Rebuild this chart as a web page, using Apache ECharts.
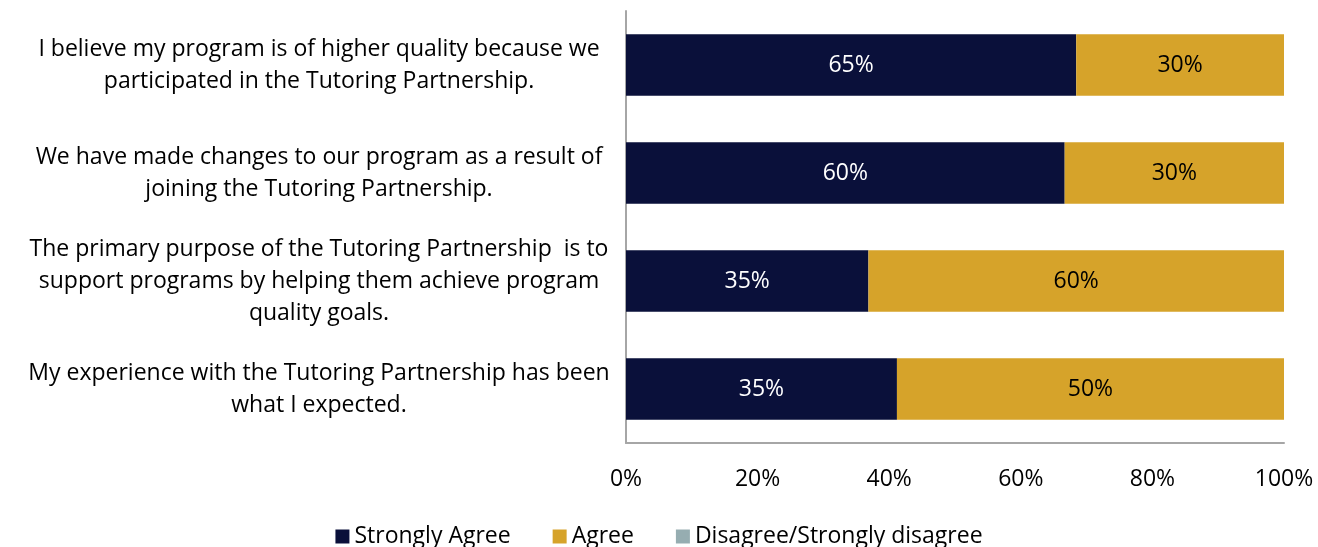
<!DOCTYPE html>
<html>
<head>
<meta charset="utf-8">
<script src="https://cdn.jsdelivr.net/npm/echarts@6/dist/echarts.min.js"></script>
<style>
  html, body { margin: 0; padding: 0; background: #fff; }
  #chart { width: 1318px; height: 547px; }
</style>
</head>
<body>
<div id="chart"></div>
<script>
var categories = [
  'I believe my program is of higher quality because we\nparticipated in the Tutoring Partnership.',
  'We have made changes to our program as a result of\njoining the Tutoring Partnership.',
  'The primary purpose of the Tutoring Partnership  is to\nsupport programs by helping them achieve program\nquality goals.',
  'My experience with the Tutoring Partnership has been\nwhat I expected.'
];
var stronglyAgree = [65, 60, 35, 35];
var agree = [30, 30, 60, 50];
var disagree = [0, 0, 0, 0];
var xTicks = [0, 20, 40, 60, 80, 100];

var font = '"Open Sans", sans-serif';
var fs = 23;

// 100% stacked: each bar is the share of the row total, label keeps the reported %
function share(arr, i) {
  var total = stronglyAgree[i] + agree[i] + disagree[i];
  return { value: arr[i] / total * 100, raw: arr[i] };
}
function rows(arr) {
  return categories.map(function (c, i) { return share(arr, i); });
}
function lbl(color) {
  return {
    show: true,
    color: color,
    fontSize: fs,
    fontFamily: font,
    formatter: function (p) { return p.data.raw > 0 ? p.data.raw + '%' : ''; }
  };
}

var chart = echarts.init(document.getElementById('chart'));
chart.setOption({
  animation: false,
  grid: { left: 626, right: 34, top: 11, bottom: 104 },
  legend: {
    bottom: -6,
    left: 'center',
    itemWidth: 14,
    itemHeight: 14,
    itemGap: 42,
    icon: 'rect',
    textStyle: { fontSize: fs, fontFamily: font, color: '#000' },
    data: ['Strongly Agree', 'Agree', 'Disagree/Strongly disagree']
  },
  xAxis: {
    type: 'value',
    min: xTicks[0],
    max: xTicks[xTicks.length - 1],
    interval: xTicks[1] - xTicks[0],
    axisLine: { show: true, lineStyle: { color: '#a6a6a6', width: 2 } },
    axisTick: { show: false },
    splitLine: { show: false },
    axisLabel: {
      margin: 25,
      fontSize: fs,
      fontFamily: font,
      color: '#000',
      formatter: '{value}%'
    }
  },
  yAxis: {
    type: 'category',
    inverse: true,
    data: categories,
    axisLine: { show: true, lineStyle: { color: '#a6a6a6', width: 2 } },
    axisTick: { show: false },
    axisLabel: {
      align: 'center',
      margin: 307,
      fontSize: fs,
      lineHeight: 32,
      fontFamily: font,
      color: '#000'
    }
  },
  series: [
    {
      name: 'Strongly Agree', type: 'bar', stack: 'all', barWidth: '57%',
      itemStyle: { color: '#0a103a' },
      label: lbl('#fff'),
      data: rows(stronglyAgree)
    },
    {
      name: 'Agree', type: 'bar', stack: 'all',
      itemStyle: { color: '#d6a32a' },
      label: lbl('#000'),
      data: rows(agree)
    },
    {
      name: 'Disagree/Strongly disagree', type: 'bar', stack: 'all',
      itemStyle: { color: '#96adb1' },
      label: lbl('#000'),
      data: rows(disagree)
    }
  ]
});
</script>
</body>
</html>
